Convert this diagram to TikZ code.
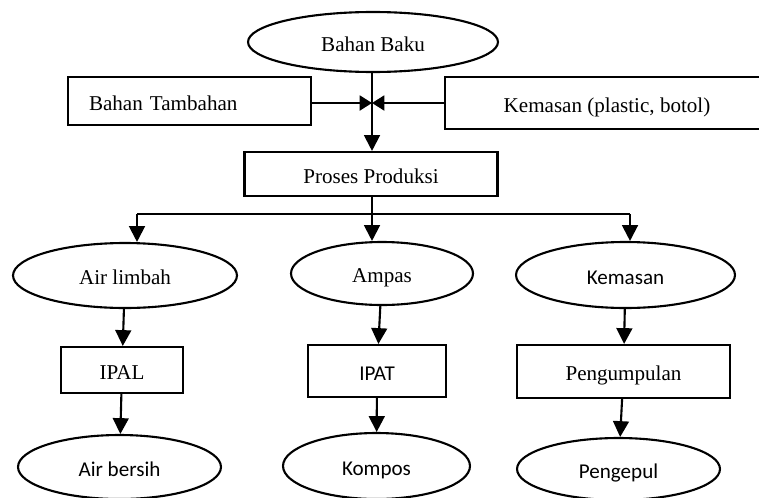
\documentclass[tikz,border=0pt]{standalone}
\usepackage{fontspec}
\setmainfont{Liberation Serif}
\newfontfamily\calibri{Carlito}
\usetikzlibrary{arrows.meta,shapes.geometric}

\begin{document}
\begin{tikzpicture}[x=0.02cm, y=-0.02cm, line width=1.2pt,
    font=\fontsize{12}{14}\selectfont,
    oval/.style={draw, ellipse, inner sep=0pt, text height=10.5pt, text depth=0pt},
    kotak/.style={draw, rectangle, inner sep=0pt, text height=10.5pt, text depth=0pt},
    arr/.style={-{Triangle[length=9pt,width=9pt]}},
    tip/.style={-{Triangle[length=7pt,width=8.5pt]}},
    cabang/.style={line width=0.7pt}]
  \useasboundingbox (0,0) rectangle (759,497);
  \clip (0,0) rectangle (759,497);
  % input
  \node[oval, minimum width=5cm, minimum height=1.2cm] (baku) at (373,42) {Bahan Baku};
  \node[kotak, minimum width=4.86cm, minimum height=0.96cm, text width=4.02cm, align=left] (tambah) at (189.5,101) {Bahan Tambahan};
  \node[kotak, minimum width=6.48cm, minimum height=1.04cm] (kemas) at (607,103) {Kemasan (plastic, botol)};
  \node[kotak, minimum width=5.06cm, minimum height=0.88cm] (proses) at (371,174) {Proses Produksi};
  \coordinate (temu) at (372,103);
  \coordinate (tengah) at (372,214);
  \draw[arr] (baku.south -| temu) -- (temu |- proses.north);
  \draw[tip] (tambah.east |- temu) -- (temu);
  \draw[tip] (kemas.west) -- (temu);
  % output
  \node[oval, minimum width=4.48cm, minimum height=1.3cm] (limbah) at (125,275.5) {Air limbah};
  \node[oval, minimum width=3.64cm, minimum height=1.26cm] (ampas) at (382,273.5) {Ampas};
  \node[oval, minimum width=4.38cm, minimum height=1.32cm] (sisa) at (625.5,275) {\calibri Kemasan};
  \coordinate (ki) at (137,214);
  \coordinate (ka) at (630,214);
  \draw[cabang] (ki) -- (ka);
  \draw[arr] (ki) -- (ki |- limbah.north);
  \draw[arr] (tengah |- proses.south) -- (tengah |- ampas.north);
  \draw[arr] (ka) -- (ka |- sisa.north);
  % pengolahan
  \node[kotak, minimum width=2.44cm, minimum height=0.92cm] (ipal) at (122,370) {IPAL};
  \node[kotak, minimum width=2.76cm, minimum height=1.04cm] (ipat) at (377,371) {\calibri IPAT};
  \node[kotak, minimum width=4.26cm, minimum height=1.06cm] (kumpul) at (623.5,371.5) {Pengumpulan};
  \node[oval, minimum width=4.06cm, minimum height=1.28cm] (bersih) at (119.5,467) {\calibri Air bersih};
  \node[oval, minimum width=3.74cm, minimum height=1.32cm] (kompos) at (376.5,466) {\calibri Kompos};
  \node[oval, minimum width=4.06cm, minimum height=1.24cm] (pengepul) at (618.5,469) {\calibri Pengepul};
  \draw[arr] (limbah) -- (ipal);
  \draw[arr] (ampas) -- (ipat);
  \draw[arr] (sisa) -- (kumpul);
  \draw[arr] (ipal) -- (bersih);
  \draw[arr] (ipat) -- (kompos);
  \draw[arr] (kumpul) -- (pengepul);
\end{tikzpicture}
\end{document}
